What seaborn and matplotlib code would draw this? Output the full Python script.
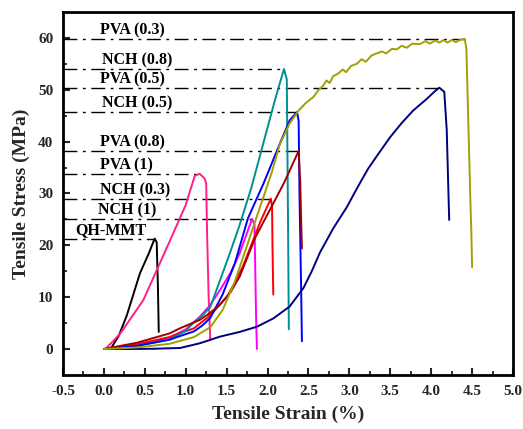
import numpy as np
import pandas as pd
import matplotlib
matplotlib.use("Agg")
import matplotlib.pyplot as plt
import seaborn as sns

# stress-strain curves (strain %, stress MPa)
qh_mmt_x = [0.08, 0.18, 0.28, 0.44, 0.55, 0.62, 0.645, 0.66, 0.67]
qh_mmt_y = [0.0, 2.5, 6.5, 14.6, 18.5, 21.3, 20.6, 12.0, 3.3]

pva_1_x = [0.02, 0.2, 0.48, 0.64, 0.81, 1.0, 1.11, 1.17, 1.23, 1.25, 1.26, 1.28, 1.30]
pva_1_y = [0.0, 3.0, 9.4, 15.0, 21.0, 27.8, 33.4, 33.8, 32.9, 31.9, 22.9, 10.0, 1.7]

nch_1_x = [0.0, 0.4, 0.8, 1.0, 1.17, 1.3, 1.42, 1.55, 1.66, 1.81, 1.84, 1.85, 1.86, 1.87]
nch_1_y = [0.0, 0.8, 2.2, 3.8, 6.2, 8.5, 11.4, 14.8, 18.5, 25.1, 24.0, 15.0, 6.0, 0.0]

nch_03_x = [0.0, 0.4, 0.8, 1.1, 1.3, 1.5, 1.6, 1.7, 1.8, 1.91, 2.04, 2.055, 2.06, 2.07]
nch_03_y = [0.0, 0.9, 2.3, 4.0, 6.5, 10.0, 12.8, 16.0, 20.0, 24.5, 29.0, 27.5, 20.0, 10.5]

nch_08_x = [0.0, 0.4, 0.8, 1.0, 1.09, 1.2, 1.30, 1.42, 1.54, 1.66, 1.80, 2.09, 2.20, 2.235, 2.25, 2.26]
nch_08_y = [0.0, 0.6, 1.8, 3.5, 5.0, 6.4, 8.1, 13.3, 18.5, 24.0, 31.0, 48.0, 54.0, 52.0, 25.0, 3.8]

nch_05_x = [0.0, 0.4, 0.8, 1.1, 1.2, 1.3, 1.45, 1.6, 1.76, 1.95, 2.15, 2.27, 2.36, 2.38, 2.39, 2.41, 2.42]
nch_05_y = [0.0, 0.6, 1.8, 3.4, 4.5, 6.0, 10.5, 16.5, 25.2, 31.9, 39.6, 44.1, 45.7, 44.0, 30.0, 12.0, 1.5]

pva_08_x = [0.0, 0.4, 0.8, 0.93, 1.17, 1.3, 1.42, 1.55, 1.66, 1.85, 2.0, 2.2, 2.38, 2.40, 2.41, 2.42]
pva_08_y = [0.0, 1.2, 3.0, 4.0, 5.6, 7.0, 8.6, 11.0, 14.0, 21.5, 26.0, 32.0, 38.2, 32.0, 25.0, 19.4]

pva_05_x = [0.0, 0.3, 0.6, 0.93, 1.17, 1.42, 1.66, 1.87, 2.07, 2.27, 2.44, 2.54, 2.64, 2.80, 2.97,
            3.10, 3.23, 3.37, 3.50, 3.64, 3.78, 3.95, 4.05, 4.10, 4.16, 4.19, 4.21, 4.22]
pva_05_y = [0.0, 0.0, 0.05, 0.2, 1.1, 2.4, 3.3, 4.3, 5.9, 8.2, 11.8, 15.0, 18.6, 23.2, 27.4,
            31.2, 34.8, 38.0, 40.9, 43.6, 46.0, 48.3, 49.8, 50.4, 49.6, 42.2, 30.6, 24.9]

pva_03_x = [0.0, 0.4, 0.8, 1.1, 1.3, 1.45, 1.6, 1.75, 1.9, 2.05, 2.15, 2.27, 2.38, 2.47,
            2.56, 2.62, 2.68, 2.72, 2.76, 2.80, 2.86, 2.92, 2.96, 3.02, 3.09, 3.15, 3.20,
            3.27, 3.33, 3.40, 3.45, 3.52, 3.58, 3.64, 3.70, 3.77, 3.86, 3.93, 3.98, 4.05,
            4.10, 4.15, 4.20, 4.25, 4.30, 4.35, 4.41, 4.43, 4.46, 4.48, 4.49, 4.50]
pva_03_y = [0.0, 0.3, 1.0, 2.3, 4.2, 7.5, 13.0, 20.0, 27.0, 34.0, 39.5, 43.5, 46.0, 47.5,
            48.6, 49.9, 50.8, 51.8, 51.3, 52.6, 53.1, 53.9, 53.4, 54.6, 55.0, 55.9, 55.4,
            56.6, 57.0, 57.4, 57.0, 57.9, 57.8, 58.5, 58.1, 58.9, 58.8, 59.4, 58.9, 59.5,
            59.1, 59.6, 59.1, 59.6, 59.2, 59.6, 59.8, 58.0, 40.0, 28.0, 23.0, 15.8]

samples = ["QH-MMT", "PVA (1)", "NCH (1)", "NCH (0.3)", "NCH (0.8)",
           "NCH (0.5)", "PVA (0.8)", "PVA (0.5)", "PVA (0.3)"]
curves_x = [qh_mmt_x, pva_1_x, nch_1_x, nch_03_x, nch_08_x, nch_05_x, pva_08_x, pva_05_x, pva_03_x]
curves_y = [qh_mmt_y, pva_1_y, nch_1_y, nch_03_y, nch_08_y, nch_05_y, pva_08_y, pva_05_y, pva_03_y]
colors = ["#000000", "#ff1e8c", "#ff00ff", "#ff0000", "#009090",
          "#0000ff", "#a00000", "#000080", "#a0a000"]
label_x = [-0.35, -0.05, -0.07, -0.05, -0.02, -0.02, -0.05, -0.05, -0.05]

rows = []
for name, xs, ys in zip(samples, curves_x, curves_y):
    for xv, yv in zip(xs, ys):
        rows.append({"strain": xv, "stress": yv, "sample": name})
df = pd.DataFrame(rows)

sns.set_theme(style="ticks")
plt.rcParams["font.family"] = ["Liberation Serif", "DejaVu Serif"]
plt.rcParams["font.weight"] = "bold"

fig = plt.figure(figsize=(5.23, 4.29), dpi=100)
ax = fig.add_axes([0.1205, 0.126, 0.8604, 0.846])

sns.lineplot(data=df, x="strain", y="stress", hue="sample", hue_order=samples,
             palette=dict(zip(samples, colors)), estimator=None, sort=False,
             units="sample", legend=False, linewidth=1.4, ax=ax)

# dash-dot guide lines from the y axis to each peak, with labels
for name, xs, ys, lx in zip(samples, curves_x, curves_y, label_x):
    k = int(np.argmax(ys))
    ax.plot([-0.5, xs[k]], [ys[k], ys[k]], color="black", lw=1.0,
            dashes=(10, 4, 2, 4), zorder=1)
    ax.text(lx, ys[k] + 1.6, name, fontsize=11.5, fontweight="bold",
            ha="left", va="center", color="black")

ax.set_xlim(-0.5, 5.0)
ax.set_ylim(-5, 65)
ax.set_xticks(np.arange(-0.5, 5.01, 0.5))
ax.set_xticks(np.arange(-0.25, 5.0, 0.5), minor=True)
ax.set_yticks(np.arange(0, 61, 10))
ax.set_yticks(np.arange(5, 65, 10), minor=True)
ax.xaxis.set_major_formatter(matplotlib.ticker.FormatStrFormatter("%.1f"))
ax.tick_params(which="major", direction="in", length=5, width=1.5, labelsize=11, pad=7)
ax.tick_params(which="minor", direction="in", length=3, width=1.3)
for lab in ax.get_xticklabels() + ax.get_yticklabels():
    lab.set_fontweight("bold")

for s in ax.spines.values():
    s.set_linewidth(2.0)
    s.set_color("black")

ax.set_xlabel("Tensile Strain (%)", fontsize=14, fontweight="bold", labelpad=6)
ax.set_ylabel("Tensile Stress (MPa)", fontsize=14, fontweight="bold", labelpad=6)

fig.savefig("out.png", dpi=100)
